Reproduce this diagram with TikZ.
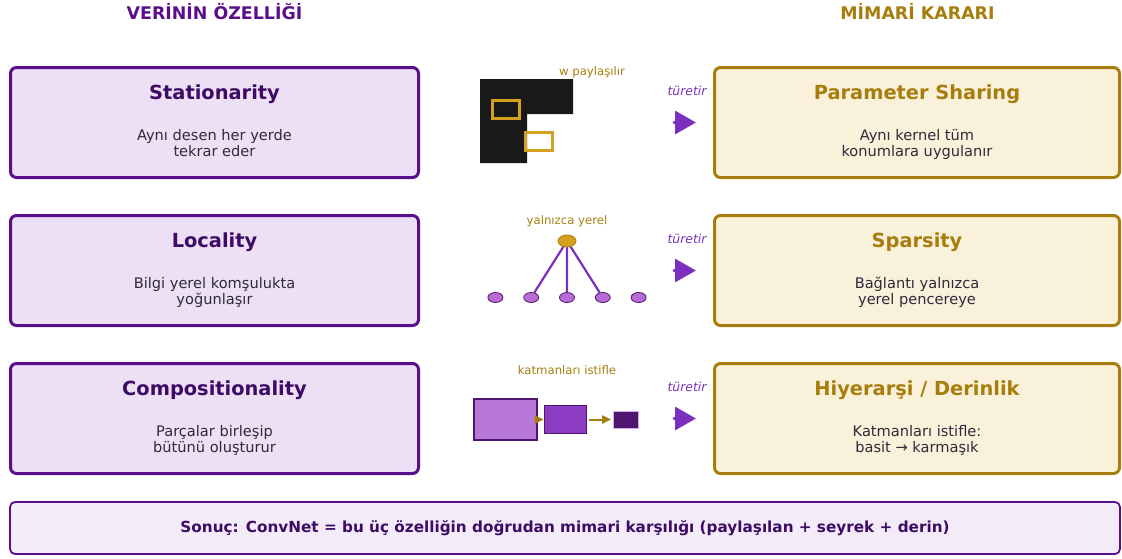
\documentclass[tikz,border=0pt]{standalone}
\usepackage{fontspec}
\setmainfont{DejaVu Sans}
\usetikzlibrary{positioning,arrows.meta,shapes.geometric}

\definecolor{dataPurple}{HTML}{5B0E8C}
\definecolor{dataFill}{HTML}{EDE0F5}
\definecolor{dataInk}{HTML}{3D0A66}
\definecolor{archGold}{HTML}{A77D0D}
\definecolor{archFill}{HTML}{FAF1DB}
\definecolor{bodyInk}{HTML}{2E2A3A}
\definecolor{derivePurple}{HTML}{7B2FBE}
\definecolor{kernelGold}{HTML}{D4A020}
\definecolor{summaryFill}{HTML}{F3ECF8}
\definecolor{unitLilac}{HTML}{B86CD6}
\definecolor{unitEdge}{HTML}{4F1670}
\definecolor{layerLight}{HTML}{B878D8}
\definecolor{layerMid}{HTML}{8B3CC2}
\definecolor{layerDark}{HTML}{4F1670}

\tikzset{
  databox/.style={draw=dataPurple, fill=dataFill, line width=3pt, rounded corners=6pt,
    minimum width=408pt, minimum height=110pt},
  archbox/.style={draw=archGold, fill=archFill, line width=3pt, rounded corners=6pt,
    minimum width=405pt, minimum height=110pt},
  datatitle/.style={text=dataInk, font=\fontsize{19.4}{23}\selectfont\bfseries, inner sep=0pt, anchor=base},
  archtitle/.style={datatitle, text=archGold},
  boxtext/.style={text=bodyInk, font=\fontsize{14.6}{15.8}\selectfont, align=center, inner sep=0pt, anchor=base},
  header/.style={font=\fontsize{17.4}{20}\selectfont\bfseries, inner sep=0pt, anchor=base},
  sketchlabel/.style={text=archGold, font=\fontsize{11.7}{14}\selectfont, inner sep=0pt},
  derivelabel/.style={text=derivePurple, font=\fontsize{12.4}{14}\selectfont\itshape, inner sep=0pt},
  derive/.style={draw=derivePurple, line width=3pt, line cap=round,
    -{Triangle[length=21pt,width=23pt]}},
  window/.style={draw=kernelGold, line width=3pt},
  outunit/.style={ellipse, draw=archGold, fill=kernelGold, line width=0.8pt,
    minimum width=18pt, minimum height=12pt, inner sep=0pt},
  inunit/.style={ellipse, draw=unitEdge, fill=unitLilac, line width=0.8pt,
    minimum width=15pt, minimum height=10pt, inner sep=0pt},
  link/.style={draw=derivePurple, line width=2.2pt},
  layer/.style={draw=unitEdge, line width=1.4pt, inner sep=0pt},
  stack/.style={draw=archGold, line width=2pt, -{Triangle[length=9pt,width=8pt]}},
  summary/.style={draw=dataPurple, fill=summaryFill, line width=1.8pt, rounded corners=5pt,
    minimum width=1110pt, minimum height=52pt, text=dataInk,
    font=\fontsize{15.25}{17}\selectfont\bfseries}
}

\begin{document}
\begin{tikzpicture}[x=1pt,y=-1pt]
    \useasboundingbox (0,0) rectangle (1122,558);

    % column headers
    \node[header, text=dataPurple] (data-head) at (214.5,19) {VERİNİN ÖZELLİĞİ};
    \node[header, text=archGold] (arch-head) at (917.5,19) {MİMARİ KARARI};

    % data properties (text base sits on its last line)
    \node[databox] (stat) at (214.5,122.5) {};
    \node[datatitle] (stat-title) at ([yshift=-33pt]stat.north) {Stationarity};
    \node[boxtext] (stat-text) at ([yshift=-90pt]stat.north) {Aynı desen her yerde\\tekrar eder};

    \node[databox] (local) [below=35pt of stat] {};
    \node[datatitle] (local-title) at ([yshift=-33pt]local.north) {Locality};
    \node[boxtext] (local-text) at ([yshift=-90pt]local.north) {Bilgi yerel komşulukta\\yoğunlaşır};

    \node[databox] (comp) [below=35pt of local] {};
    \node[datatitle] (comp-title) at ([yshift=-33pt]comp.north) {Compositionality};
    \node[boxtext] (comp-text) at ([yshift=-90pt]comp.north) {Parçalar birleşip\\bütünü oluşturur};

    % architecture decisions
    \node[archbox] (share) [right=293pt of stat] {};
    \node[archtitle] (share-title) at ([yshift=-33pt]share.north) {Parameter Sharing};
    \node[boxtext] (share-text) at ([yshift=-90pt]share.north) {Aynı kernel tüm\\konumlara uygulanır};

    \node[archbox] (sparse) [right=293pt of local] {};
    \node[archtitle] (sparse-title) at ([yshift=-33pt]sparse.north) {Sparsity};
    \node[boxtext] (sparse-text) at ([yshift=-90pt]sparse.north) {Bağlantı yalnızca\\yerel pencereye};

    \node[archbox] (deep) [right=293pt of comp] {};
    \node[archtitle] (deep-title) at ([yshift=-33pt]deep.north) {Hiyerarşi / Derinlik};
    \node[boxtext] (deep-text) at ([yshift=-90pt]deep.north) {Katmanları istifle:\\basit → karmaşık};

    % derivation arrows
    \node[derivelabel] (share-why) at ([xshift=-26pt,yshift=32pt]share.west) {türetir};
    \coordinate (share-from) at ([xshift=-39pt]share.west);
    \coordinate (share-to) at ([xshift=-17pt]share.west);
    \draw[derive] (share-from) -- (share-to);

    \node[derivelabel] (sparse-why) at ([xshift=-26pt,yshift=32pt]sparse.west) {türetir};
    \coordinate (sparse-from) at ([xshift=-39pt]sparse.west);
    \coordinate (sparse-to) at ([xshift=-17pt]sparse.west);
    \draw[derive] (sparse-from) -- (sparse-to);

    \node[derivelabel] (deep-why) at ([xshift=-26pt,yshift=32pt]deep.west) {türetir};
    \coordinate (deep-from) at ([xshift=-39pt]deep.west);
    \coordinate (deep-to) at ([xshift=-17pt]deep.west);
    \draw[derive] (deep-from) -- (deep-to);

    % shared kernel sketch
    \fill[black!90] (480,79) -| (573,114) -| (527,163) -| cycle;
    \draw[window] (492.5,100.5) rectangle (519.5,118.5);
    \draw[window] (525.5,132.5) rectangle (552.5,150.5);
    \node[sketchlabel] (share-note) at (592,72) {w paylaşılır};

    % local connections sketch
    \node[sketchlabel] (sparse-note) at (567,221) {yalnızca yerel};
    \node[inunit] (in3) at (567,297.5) {};
    \node[inunit] (in2) [left=20pt of in3] {};
    \node[inunit] (in1) [left=20pt of in2] {};
    \node[inunit] (in4) [right=20pt of in3] {};
    \node[inunit] (in5) [right=20pt of in4] {};
    \draw[link] (567,241) -- (in2) (567,241) -- (in3) (567,241) -- (in4);
    \node[outunit] (out) at (567,241) {};

    % stacked layers sketch
    \node[sketchlabel] (deep-note) at (567,370) {katmanları istifle};
    \node[layer, fill=layerLight, minimum width=63pt, minimum height=41pt] (l1) at (505.5,419.5) {};
    \node[layer, fill=layerMid, minimum width=42pt, minimum height=28pt] (l2) [right=6pt of l1] {};
    \node[layer, fill=layerDark, draw=layerLight!60, line width=0.8pt, minimum width=25pt, minimum height=17pt] (l3) [right=26pt of l2] {};
    \draw[stack] (l1) -- (l2);
    \draw[stack, shorten <=2pt, shorten >=2pt] (l2) -- (l3);

    % conclusion
    \node[summary] (result) at (565,528) {Sonuç: ConvNet = bu üç özelliğin doğrudan mimari karşılığı (paylaşılan + seyrek + derin)};
\end{tikzpicture}
\end{document}
